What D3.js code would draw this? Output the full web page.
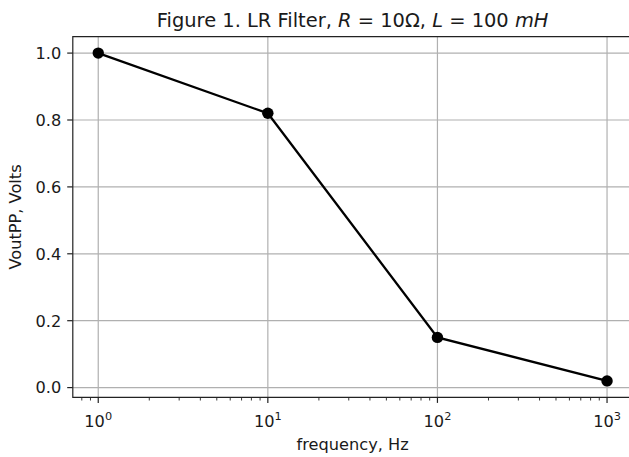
<!DOCTYPE html>
<html>
<head>
<meta charset="utf-8">
<script src="https://cdn.jsdelivr.net/npm/d3@7"></script>
<style>
  body { margin: 0; background: #fff; }
  svg { display: block; font-family: "DejaVu Sans", sans-serif; }
  .grid line { stroke: #b0b0b0; stroke-width: 1.2; }
</style>
</head>
<body>
<svg width="629" height="457"></svg>
<script>
const frequency = [1, 10, 100, 1000];
const voutPP = [1.0, 0.82, 0.15, 0.02];
const yTicks = [0.0, 0.2, 0.4, 0.6, 0.8, 1.0];
const xTicks = [1, 10, 100, 1000];

const svg = d3.select("svg"),
  margin = { top: 36.7, left: 72.8 },
  decade = 169.6,
  fs = 16.2;

// matplotlib-style 5% margins on each axis
const lx = d3.extent(frequency).map(Math.log10);
const lpad = (lx[1] - lx[0]) * 0.05;
const xDom = [Math.pow(10, lx[0] - lpad), Math.pow(10, lx[1] + lpad)];
const width = (lx[1] - lx[0] + 2 * lpad) * decade;
const height = 360.6;

const ye = d3.extent(voutPP);
const ypad = (ye[1] - ye[0]) * 0.05;

const x = d3.scaleLog().domain(xDom).range([margin.left, margin.left + width]);
const y = d3.scaleLinear().domain([ye[0] - ypad, ye[1] + ypad]).range([margin.top + height, margin.top]);

const bottom = margin.top + height, right = margin.left + width;

// grid
const grid = svg.append("g").attr("class", "grid");
grid.selectAll(".gx").data(xTicks).enter().append("line")
  .attr("x1", d => x(d)).attr("x2", d => x(d))
  .attr("y1", margin.top).attr("y2", bottom);
grid.selectAll(".gy").data(yTicks).enter().append("line")
  .attr("x1", margin.left).attr("x2", right)
  .attr("y1", d => y(d)).attr("y2", d => y(d));

// minor ticks on log axis
const minor = [];
for (let p = -1; p < 4; p++) for (let m = 2; m <= 9; m++) {
  const v = m * Math.pow(10, p);
  if (v > xDom[0] && v < xDom[1]) minor.push(v);
}
svg.selectAll(".minor").data(minor).enter().append("line")
  .attr("x1", d => x(d)).attr("x2", d => x(d))
  .attr("y1", bottom).attr("y2", bottom + 3.2)
  .attr("stroke", "#222").attr("stroke-width", 0.9);

// major ticks
svg.selectAll(".xt").data(xTicks).enter().append("line")
  .attr("x1", d => x(d)).attr("x2", d => x(d))
  .attr("y1", bottom).attr("y2", bottom + 5.6)
  .attr("stroke", "#222").attr("stroke-width", 1.2);
svg.selectAll(".yt").data(yTicks).enter().append("line")
  .attr("x1", margin.left - 5.6).attr("x2", margin.left)
  .attr("y1", d => y(d)).attr("y2", d => y(d))
  .attr("stroke", "#222").attr("stroke-width", 1.2);

// tick labels
svg.selectAll(".yl").data(yTicks).enter().append("text")
  .attr("x", margin.left - 11.5)
  .attr("y", d => y(d))
  .attr("dy", "0.36em")
  .attr("text-anchor", "end")
  .attr("font-size", fs)
  .attr("fill", "#1a1a1a")
  .text(d3.format(".1f"));

const xl = svg.selectAll(".xl").data(xTicks).enter().append("text")
  .attr("x", d => x(d))
  .attr("y", 427)
  .attr("text-anchor", "middle")
  .attr("font-size", fs)
  .attr("fill", "#1a1a1a");
xl.append("tspan").text("10");
xl.append("tspan").attr("font-size", fs * 0.7).attr("dy", -7)
  .text(d => Math.round(Math.log10(d)));

// spines
svg.append("path")
  .attr("d", `M${right},${margin.top}H${margin.left}V${bottom}H${right}`)
  .attr("fill", "none").attr("stroke", "#222").attr("stroke-width", 1.2);

// line + markers
const pts = frequency.map((f, i) => [f, voutPP[i]]);
svg.append("path")
  .datum(pts)
  .attr("fill", "none")
  .attr("stroke", "#000")
  .attr("stroke-width", 2.3)
  .attr("d", d3.line().x(d => x(d[0])).y(d => y(d[1])));
svg.selectAll(".pt").data(pts).enter().append("circle")
  .attr("cx", d => x(d[0])).attr("cy", d => y(d[1]))
  .attr("r", 5.7).attr("fill", "#000");

// title
const title = svg.append("text")
  .attr("x", (margin.left + right) / 2)
  .attr("y", 26.5)
  .attr("text-anchor", "middle")
  .attr("font-size", fs * 1.2)
  .attr("fill", "#1a1a1a");
title.append("tspan").text("Figure 1. LR Filter, ");
title.append("tspan").attr("font-style", "italic").text("R");
title.append("tspan").text(" = 10Ω, ");
title.append("tspan").attr("font-style", "italic").text("L");
title.append("tspan").text(" = 100 ");
title.append("tspan").attr("font-style", "italic").text("mH");

// axis labels
svg.append("text")
  .attr("x", (margin.left + right) / 2)
  .attr("y", 450)
  .attr("text-anchor", "middle")
  .attr("font-size", fs)
  .attr("fill", "#1a1a1a")
  .text("frequency, Hz");

svg.append("text")
  .attr("transform", "rotate(-90)")
  .attr("x", -(margin.top + bottom) / 2)
  .attr("y", 21)
  .attr("text-anchor", "middle")
  .attr("font-size", fs)
  .attr("fill", "#1a1a1a")
  .text("VoutPP, Volts");
</script>
</body>
</html>
